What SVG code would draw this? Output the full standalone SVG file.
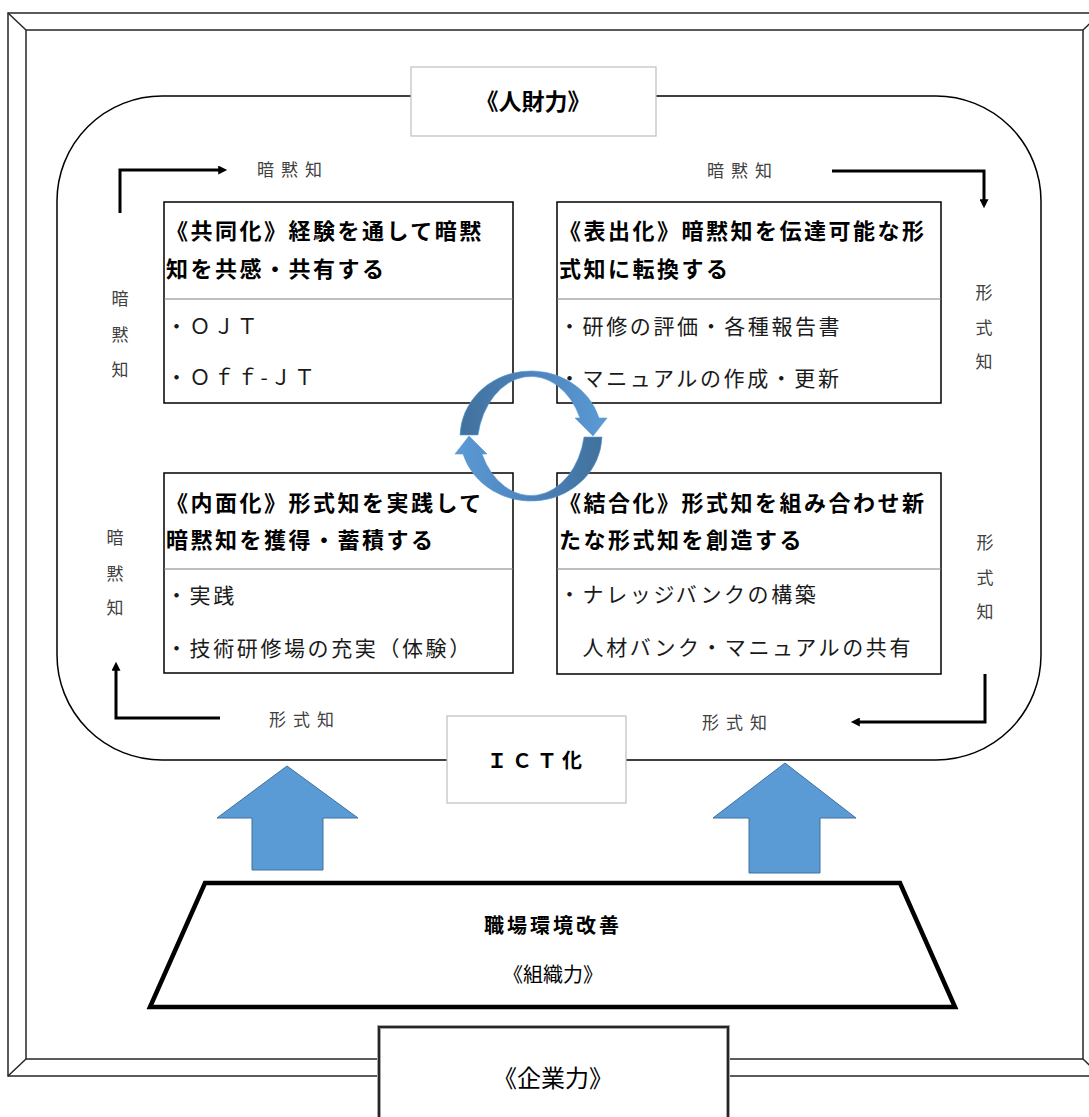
<svg xmlns="http://www.w3.org/2000/svg" width="1089" height="1117" viewBox="0 0 1089 1117">
<defs>
<style>
.frame{fill:none;stroke:#262626;stroke-width:1.5}
.box{fill:#fff;stroke:#000;stroke-width:1.5}
.div{stroke:#7f7f7f;stroke-width:1}
.ttl{font-family:"Noto Sans CJK JP","Noto Sans CJK SC",sans-serif;font-weight:bold;font-size:22px;letter-spacing:2.5px;fill:#000}
.itm{font-family:"Noto Sans CJK JP","Noto Sans CJK SC",sans-serif;font-size:21px;letter-spacing:2.6px;fill:#1a1a1a}
.lbl{font-family:"Noto Sans CJK JP","Noto Sans CJK SC",sans-serif;font-size:17px;fill:#404040}
.hl{letter-spacing:7px}
.vl{text-anchor:middle}
.conn{fill:none;stroke:#000;stroke-width:3}
.up{fill:#5b9bd5;stroke:#41719c;stroke-width:1}
.cap{fill:#fff;stroke:#bfbfbf;stroke-width:1.2}
.ctr{font-family:"Noto Sans CJK JP","Noto Sans CJK SC",sans-serif;fill:#000;text-anchor:middle}
</style>
<marker id="ah" viewBox="0 0 10 10" refX="2" refY="5" markerWidth="10" markerHeight="9" markerUnits="userSpaceOnUse" orient="auto">
<path d="M0,0 L10,5 L0,10 z" fill="#000"/>
</marker>
<linearGradient id="ring" x1="0" y1="0" x2="1" y2="0">
<stop offset="0" stop-color="#41719c"/>
<stop offset="0.55" stop-color="#4f86c0"/>
<stop offset="1" stop-color="#5b9bd5"/>
</linearGradient>
</defs>
<rect width="1089" height="1117" fill="#fff"/>

<g id="frame">
<rect class="frame" x="8" y="13" width="1093" height="1063"/>
<rect class="frame" x="26" y="30" width="1057" height="1029"/>
<path class="frame" d="M8,13 L26,30 M1101,13 L1083,30 M8,1076 L26,1059 M1101,1076 L1083,1059"/>
</g>

<g id="jinzairyoku-area">
<rect x="57" y="96" width="984" height="664" rx="105" ry="105" fill="none" stroke="#000" stroke-width="1.5"/>
</g>

<g id="title-jinzai">
<rect class="cap" x="411" y="67" width="245" height="69"/>
<text class="ctr" x="533" y="110" font-size="23" font-weight="bold">《人財力》</text>
</g>

<g id="ict">
<rect class="cap" x="447" y="716" width="179" height="87"/>
<text x="487" y="768" font-family="Noto Sans CJK JP, sans-serif" font-size="20" font-weight="bold" letter-spacing="5">ＩＣＴ化</text>
</g>

<g id="box-kyodoka">
<rect class="box" x="164" y="202" width="349" height="201"/>
<line class="div" x1="164" y1="299" x2="513" y2="299"/>
<text class="ttl" x="166" y="239">《共同化》経験を通して暗黙</text>
<text class="ttl" x="166" y="277">知を共感・共有する</text>
<text class="itm" x="166" y="334">・ＯＪＴ</text>
<text class="itm" x="166" y="385">・Ｏｆｆ-ＪＴ</text>
</g>

<g id="box-hyoshutsuka">
<rect class="box" x="557" y="202" width="384" height="201"/>
<line class="div" x1="557" y1="299" x2="941" y2="299"/>
<text class="ttl" x="559" y="239">《表出化》暗黙知を伝達可能な形</text>
<text class="ttl" x="559" y="277">式知に転換する</text>
<text class="itm" x="559" y="334">・研修の評価・各種報告書</text>
<text class="itm" x="559" y="386">・マニュアルの作成・更新</text>
</g>

<g id="box-naimenka">
<rect class="box" x="164" y="473" width="349" height="200"/>
<line class="div" x1="164" y1="569" x2="513" y2="569"/>
<text class="ttl" x="166" y="511">《内面化》形式知を実践して</text>
<text class="ttl" x="166" y="548">暗黙知を獲得・蓄積する</text>
<text class="itm" x="166" y="603">・実践</text>
<text class="itm" x="166" y="656">・技術研修場の充実（体験）</text>
</g>

<g id="box-ketsugoka">
<rect class="box" x="557" y="473" width="384" height="201"/>
<line class="div" x1="557" y1="569" x2="941" y2="569"/>
<text class="ttl" x="559" y="511">《結合化》形式知を組み合わせ新</text>
<text class="ttl" x="559" y="548">たな形式知を創造する</text>
<text class="itm" x="559" y="602">・ナレッジバンクの構築</text>
<text class="itm" x="559" y="655">　人材バンク・マニュアルの共有</text>
</g>

<g id="labels">
<text class="lbl hl" x="257" y="176">暗黙知</text>
<text class="lbl hl" x="707" y="177">暗黙知</text>
<text class="lbl hl" x="269" y="726">形式知</text>
<text class="lbl hl" x="702" y="729">形式知</text>
<text class="lbl vl" x="120" y="305">暗</text>
<text class="lbl vl" x="120" y="341">黙</text>
<text class="lbl vl" x="120" y="376">知</text>
<text class="lbl vl" x="115" y="544">暗</text>
<text class="lbl vl" x="115" y="580">黙</text>
<text class="lbl vl" x="115" y="614">知</text>
<text class="lbl vl" x="984" y="299">形</text>
<text class="lbl vl" x="984" y="334">式</text>
<text class="lbl vl" x="984" y="368">知</text>
<text class="lbl vl" x="985" y="549">形</text>
<text class="lbl vl" x="985" y="584">式</text>
<text class="lbl vl" x="985" y="618">知</text>
</g>

<g id="connectors">
<path class="conn" d="M120,213 V170 H220" marker-end="url(#ah)"/>
<path class="conn" d="M832,171 H984 V201" marker-end="url(#ah)"/>
<path class="conn" d="M220,718 H116 V669" marker-end="url(#ah)"/>
<path class="conn" d="M985,674 V722 H858" marker-end="url(#ah)"/>
</g>

<g id="up-arrows">
<path class="up" d="M287,766 L358,818 L323,818 L323,870 L252,870 L252,818 L217,818 Z"/>
<path class="up" d="M785,763 L856,818 L820,818 L820,873 L749,873 L749,818 L713,818 Z"/>
</g>

<g id="soshikiryoku">
<path d="M205,883 L900,883 L955,1007 L150,1007 Z" fill="#fff" stroke="#000" stroke-width="4.5" stroke-linejoin="miter"/>
<text class="ctr" x="553" y="933" font-size="20" font-weight="bold" letter-spacing="3">職場環境改善</text>
<text class="ctr" x="553" y="982" font-size="20">《組織力》</text>
</g>

<g id="kigyoryoku">
<rect x="379" y="1027" width="349" height="100" fill="#fff" stroke="#a6a6a6" stroke-width="4"/>
<rect x="379" y="1027" width="349" height="100" fill="none" stroke="#262626" stroke-width="2"/>
<text class="ctr" x="553" y="1087" font-size="24">《企業力》</text>
</g>

<g id="cycle">
<path d="M460,435 A71,66 0 0 1 599,418 L607,418 L593,436 L575,418 L580,418 A54,72 0 0 0 478,435 Z" fill="url(#ring)" stroke="#5b9bd5" stroke-width="0.6"/>
<path transform="rotate(180 531 436)" d="M460,435 A71,66 0 0 1 599,418 L607,418 L593,436 L575,418 L580,418 A54,72 0 0 0 478,435 Z" fill="url(#ring)" stroke="#5b9bd5" stroke-width="0.6"/>
</g>
</svg>
